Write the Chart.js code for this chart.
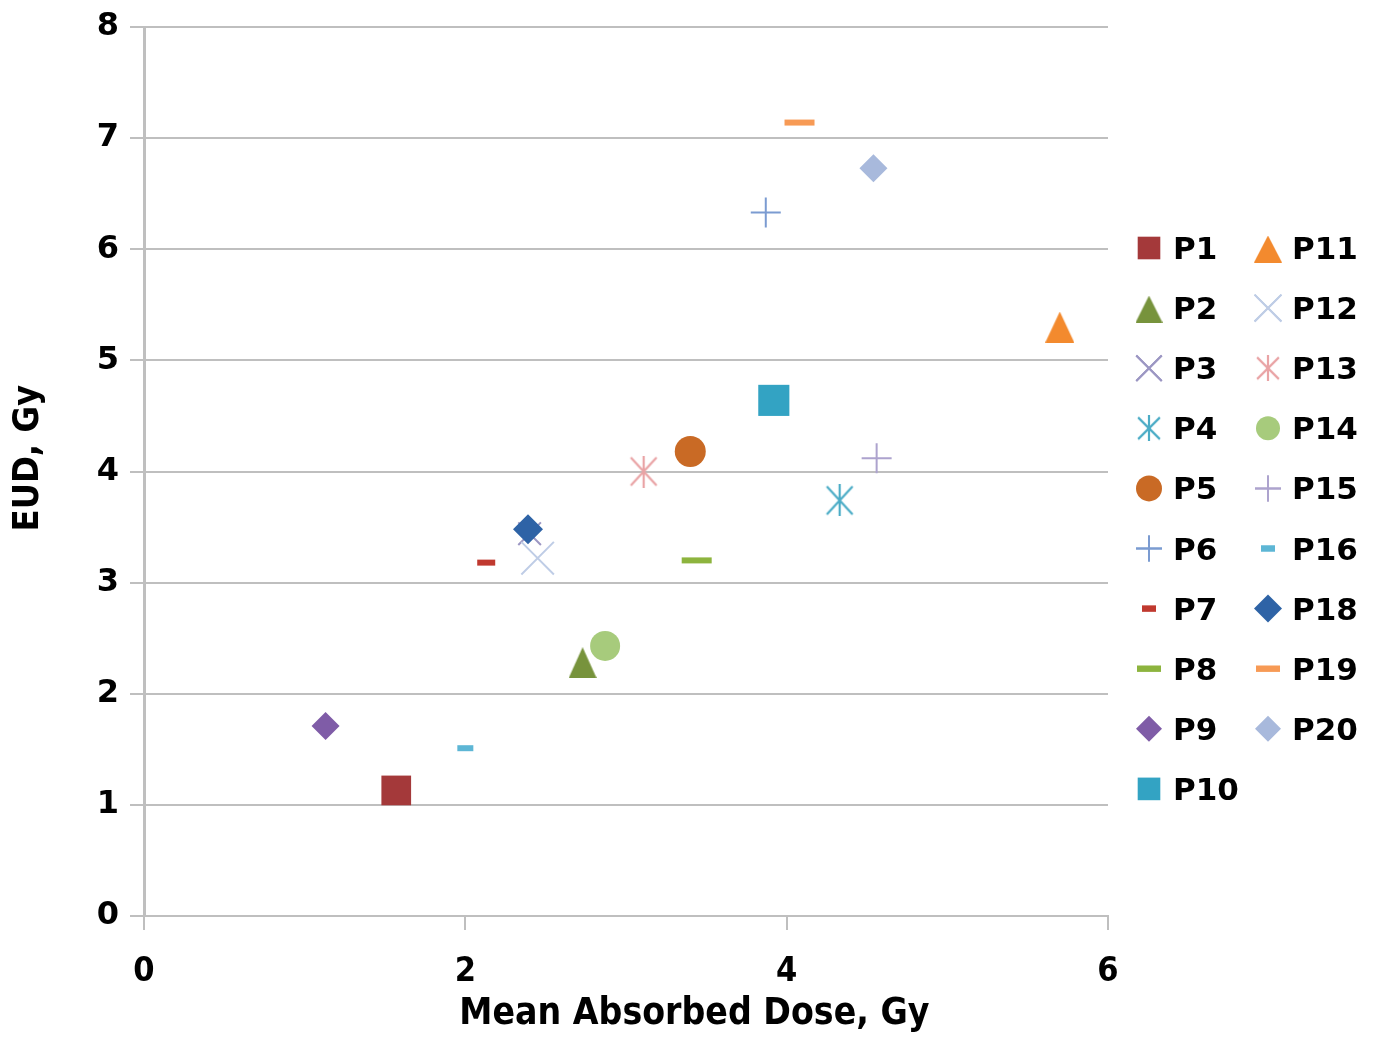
<!DOCTYPE html>
<html>
<head>
<meta charset="utf-8">
<title>EUD vs Mean Absorbed Dose</title>
<script src="https://cdn.jsdelivr.net/npm/chart.js@4.4.1/dist/chart.umd.min.js"></script>
<style>
  html, body { margin: 0; padding: 0; background: #ffffff; }
  canvas { display: block; }
</style>
</head>
<body>
<canvas id="chart" width="1376" height="1038"></canvas>
<script>
// Patients (P17 is not part of the series)
const patients = ['P1', 'P2', 'P3', 'P4', 'P5', 'P6', 'P7', 'P8', 'P9', 'P10',
                  'P11', 'P12', 'P13', 'P14', 'P15', 'P16', 'P18', 'P19', 'P20'];
// Mean absorbed dose, Gy
const meanDose = [1.57, 2.73, 2.40, 4.33, 3.40, 3.87, 2.13, 3.44, 1.13, 3.92,
                  5.70, 2.45, 3.11, 2.87, 4.56, 2.00, 2.39, 4.08, 4.54];
// Equivalent uniform dose, Gy
const eud = [1.13, 2.28, 3.44, 3.74, 4.18, 6.33, 3.18, 3.20, 1.71, 4.64,
             5.30, 3.22, 4.00, 2.43, 4.12, 1.51, 3.48, 7.14, 6.73];
// Axis ticks and titles
const xTicks = [0, 2, 4, 6];
const yTicks = [0, 1, 2, 3, 4, 5, 6, 7, 8];
const xTitle = 'Mean Absorbed Dose, Gy';
const yTitle = 'EUD, Gy';

// Marker images for shapes Chart.js has no exact equivalent of
function triangleMarker(color, w, h) {
  const c = document.createElement('canvas');
  c.width = w; c.height = h;
  const g = c.getContext('2d');
  g.fillStyle = color;
  g.beginPath();
  g.moveTo(w / 2, 0);
  g.lineTo(w, h);
  g.lineTo(0, h);
  g.closePath();
  g.fill();
  return c;
}
function asteriskMarker(color, w, h, lw) {
  const c = document.createElement('canvas');
  c.width = w; c.height = h;
  const g = c.getContext('2d');
  g.strokeStyle = color;
  g.lineWidth = lw;
  const p = lw / 2 + 1;
  g.beginPath();
  g.moveTo(w / 2, 0); g.lineTo(w / 2, h);
  g.moveTo(p, p); g.lineTo(w - p, h - p);
  g.moveTo(w - p, p); g.lineTo(p, h - p);
  g.stroke();
  return c;
}

// Marker appearance per patient, in the same order as `patients`
const markerStyles = [
  { color: '#A4393A', shape: 'rect',     r: 21, bw: 0, lr: 16 },
  { color: '#77933C', shape: 'tri',      w: 28, h: 31, lw: 27, lh: 27 },
  { color: '#9C97C3', shape: 'crossRot', r: 16, bw: 2, lr: 18 },
  { color: '#4BACC6', shape: 'ast',      w: 30, h: 32, lw: 26, lh: 26 },
  { color: '#C96A25', shape: 'circle',   r: 15.5, bw: 0, lr: 13 },
  { color: '#7B9BD1', shape: 'cross',    r: 15, bw: 2, lr: 13 },
  { color: '#C0392F', shape: 'line',     r: 9,  bw: 6, lr: 7 },
  { color: '#8DB43E', shape: 'line',     r: 15, bw: 6, lr: 12 },
  { color: '#7F5CA7', shape: 'rectRot',  r: 14, bw: 0, lr: 13 },
  { color: '#33A3C3', shape: 'rect',     r: 22, bw: 0, lr: 16 },
  { color: '#F38A2E', shape: 'tri',      w: 29, h: 31, lw: 28, lh: 27 },
  { color: '#BFCDE6', shape: 'crossRot', r: 23, bw: 2, lr: 19 },
  { color: '#E9A3A5', shape: 'ast',      w: 30, h: 32, lw: 26, lh: 26 },
  { color: '#A7CB7C', shape: 'circle',   r: 15, bw: 0, lr: 12 },
  { color: '#ADA3CE', shape: 'cross',    r: 15, bw: 2, lr: 13 },
  { color: '#5DB6D5', shape: 'line',     r: 8,  bw: 6, lr: 7 },
  { color: '#2E63A6', shape: 'rectRot',  r: 15, bw: 0, lr: 14 },
  { color: '#F79A55', shape: 'line',     r: 15, bw: 6, lr: 12 },
  { color: '#A8B9DC', shape: 'rectRot',  r: 14, bw: 0, lr: 13 }
];

function pointStyleFor(s, legend) {
  if (s.shape === 'tri') return triangleMarker(s.color, legend ? s.lw : s.w, legend ? s.lh : s.h);
  if (s.shape === 'ast') return asteriskMarker(s.color, legend ? s.lw : s.w, legend ? s.lh : s.h, 2.2);
  return s.shape;
}

const datasets = patients.map((name, i) => {
  const s = markerStyles[i];
  return {
    label: name,
    data: [{ x: meanDose[i], y: eud[i] }],
    pointStyle: pointStyleFor(s, false),
    pointRadius: s.r || 15,
    pointHoverRadius: s.r || 15,
    pointBorderWidth: s.bw || 0,
    pointHoverBorderWidth: s.bw || 0,
    backgroundColor: s.color,
    borderColor: s.color,
    // P3 sits underneath the P18 diamond
    order: name === 'P3' ? 1 : 0
  };
});

const condensedBold = '"DejaVu Sans Condensed", "Liberation Sans Narrow", sans-serif';
const gridGrey = '#BFBFBF';

// Two-column legend at the right of the plot
const legendLayout = { col1Marker: 1149, col1Text: 1173, col2Marker: 1268, col2Text: 1292, top: 248, step: 60.1, rows: 10 };
const legendStyles = markerStyles.map(s => pointStyleFor(s, true));

const twoColumnLegend = {
  id: 'twoColumnLegend',
  afterDraw(chart) {
    const ctx = chart.ctx;
    const L = legendLayout;
    ctx.save();
    patients.forEach((name, i) => {
      const s = markerStyles[i];
      const col = i < L.rows ? 0 : 1;
      const row = i < L.rows ? i : i - L.rows;
      const mx = col === 0 ? L.col1Marker : L.col2Marker;
      const tx = col === 0 ? L.col1Text : L.col2Text;
      const y = L.top + row * L.step;
      ctx.fillStyle = s.color;
      ctx.strokeStyle = s.color;
      ctx.lineWidth = s.bw || 0;
      Chart.helpers.drawPoint(ctx, {
        pointStyle: legendStyles[i],
        radius: s.lr || 12,
        borderWidth: s.bw || 0,
        rotation: 0
      }, mx, y + (s.shape === 'tri' ? 1 : 0));
      if (s.bw) { ctx.stroke(); }
      ctx.fillStyle = '#000000';
      ctx.font = 'bold 31px "DejaVu Sans", Verdana, sans-serif';
      ctx.textAlign = 'left';
      ctx.textBaseline = 'middle';
      ctx.fillText(name, tx, y + 3);
    });
    ctx.restore();
  }
};

// Axis titles, placed relative to the plot area
const axisTitles = {
  id: 'axisTitles',
  afterDraw(chart) {
    const ctx = chart.ctx;
    const area = chart.chartArea;
    ctx.save();
    ctx.fillStyle = '#000000';
    ctx.textAlign = 'center';
    ctx.textBaseline = 'middle';
    ctx.font = 'bold 37px ' + condensedBold;
    ctx.fillText(xTitle, area.left + (area.right - area.left) * 0.571, chart.height - 24);
    ctx.translate(29, area.top + (area.bottom - area.top) * 0.485);
    ctx.rotate(-Math.PI / 2);
    ctx.font = 'bold 36px ' + condensedBold;
    ctx.fillText(yTitle, 0, 0);
    ctx.restore();
  }
};

new Chart(document.getElementById('chart'), {
  type: 'scatter',
  data: { datasets },
  plugins: [twoColumnLegend, axisTitles],
  options: {
    responsive: false,
    animation: false,
    devicePixelRatio: 1,
    layout: { padding: { left: 0, top: 27, right: 268, bottom: 0 } },
    plugins: {
      legend: { display: false },
      tooltip: { enabled: false }
    },
    scales: {
      x: {
        type: 'linear',
        min: xTicks[0],
        max: xTicks[xTicks.length - 1],
        afterBuildTicks(scale) { scale.ticks = xTicks.map(v => ({ value: v })); },
        afterFit(scale) { scale.height = 122; },
        ticks: {
          color: '#000000',
          padding: 22,
          font: { family: condensedBold, size: 34, weight: 'bold' }
        },
        grid: { drawOnChartArea: false, drawTicks: true, tickLength: 14, color: gridGrey, lineWidth: 2 },
        border: { display: true, color: gridGrey, width: 2 },
        title: { display: false, text: xTitle }
      },
      y: {
        type: 'linear',
        min: yTicks[0],
        max: yTicks[yTicks.length - 1],
        afterBuildTicks(scale) { scale.ticks = yTicks.map(v => ({ value: v })); },
        afterFit(scale) { scale.width = 144; },
        ticks: {
          color: '#000000',
          padding: 11,
          font: { family: '"DejaVu Sans", Verdana, sans-serif', size: 32, weight: 'bold', lineHeight: 1 }
        },
        grid: { drawTicks: true, tickLength: 14, color: gridGrey, lineWidth: 2 },
        border: { display: true, color: gridGrey, width: 3 },
        title: { display: false, text: yTitle }
      }
    }
  }
});
</script>
</body>
</html>
